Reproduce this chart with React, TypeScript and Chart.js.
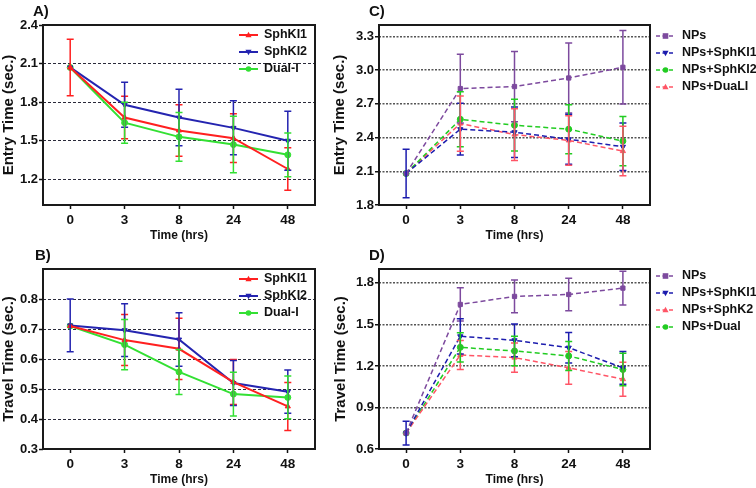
import React, { useEffect, useRef } from "react";
import { Chart, registerables } from "chart.js";
Chart.register(...registerables);

// ---------- data ----------
const timePoints = ["0", "3", "8", "24", "48"];

// A) Entry time
const entrySphKI1 = [2.07, 1.68, 1.58, 1.52, 1.28];
const entrySphKI1Err = [0.22, 0.165, 0.2, 0.19, 0.165];
const entrySphKI2 = [2.07, 1.78, 1.68, 1.6, 1.5];
const entrySphKI2Err = [0, 0.175, 0.22, 0.21, 0.23];
const entryDual = [2.07, 1.64, 1.53, 1.47, 1.39];
const entryDualErr = [0, 0.16, 0.19, 0.22, 0.17];
const entryTicks = [1.2, 1.5, 1.8, 2.1, 2.4];

// B) Travel time
const travelSphKI1 = [0.71, 0.663, 0.634, 0.523, 0.442];
const travelSphKI1Err = [0, 0.085, 0.102, 0.075, 0.08];
const travelSphKI2 = [0.712, 0.696, 0.665, 0.52, 0.491];
const travelSphKI2Err = [0.088, 0.088, 0.089, 0.075, 0.072];
const travelDual = [0.71, 0.648, 0.557, 0.483, 0.472];
const travelDualErr = [0, 0.084, 0.075, 0.073, 0.071];
const travelTicks = [0.3, 0.4, 0.5, 0.6, 0.7, 0.8];

// C) NP entry time
const npEntry = [2.08, 2.835, 2.853, 2.929, 3.024];
const npEntryErr = [0, 0.306, 0.312, 0.312, 0.327];
const npSphKI1Entry = [2.08, 2.474, 2.447, 2.385, 2.318];
const npSphKI1EntryErr = [0.216, 0.23, 0.224, 0.222, 0.212];
const npSphKI2Entry = [2.08, 2.562, 2.509, 2.474, 2.368];
const npSphKI2EntryErr = [0, 0.245, 0.23, 0.218, 0.218];
const npDualEntry = [2.08, 2.524, 2.426, 2.374, 2.279];
const npDualEntryErr = [0, 0.246, 0.23, 0.22, 0.22];
const npEntryTicks = [1.8, 2.1, 2.4, 2.7, 3.0, 3.3];

// D) NP travel time
const npTravel = [0.715, 1.644, 1.702, 1.716, 1.762];
const npTravelErr = [0, 0.12, 0.118, 0.118, 0.122];
const npSphKI1Travel = [0.715, 1.414, 1.385, 1.332, 1.186];
const npSphKI1TravelErr = [0.086, 0.127, 0.118, 0.11, 0.119];
const npSphK2Travel = [0.715, 1.279, 1.26, 1.186, 1.104];
const npSphK2TravelErr = [0, 0.104, 0.105, 0.118, 0.123];
const npDualTravel = [0.715, 1.334, 1.308, 1.272, 1.174];
const npDualTravelErr = [0, 0.105, 0.106, 0.105, 0.118];
const npTravelTicks = [0.6, 0.9, 1.2, 1.5, 1.8];

// ---------- styles ----------
const FONT = "'Liberation Sans', Arial, Helvetica, sans-serif";
const INK = "#111111";
const RED = "#ff2020";
const BLUE = "#2424b0";
const GREEN = "#33e033";
const PURPLE = "#7d4a9e";
const NBLUE = "#1c1cae";
const NGREEN = "#22cc22";
const PINK = "#ff5566";
const DASH = [5, 3];

type DS = {
  label: string;
  data: number[];
  err: number[];
  color: string;
  point: string;
  rot: number;
  dash: number[];
};

type Panel = {
  key: string;
  left: number;
  top: number;
  width: number;
  height: number;
  area: { l: number; t: number; r: number; b: number };
  yMin: number;
  yMax: number;
  ticks: number[];
  yTitle: string;
  yTitlePad: number;
  lineWidth: number;
  gridColor: string;
  gridWidth: number;
  gridDash: number[];
  legend: { x0: number; x1: number; tx: number; y0: number; gap: number };
  datasets: DS[];
};

const panels: Panel[] = [
  {
    key: "A",
    left: 0, top: 0, width: 378, height: 244,
    area: { l: 43, t: 25, r: 315, b: 205 },
    yMin: 1.0, yMax: 2.4, ticks: entryTicks,
    yTitle: "Entry Time (sec.)", yTitlePad: 0,
    lineWidth: 2, gridColor: "#2a2a3a", gridWidth: 1, gridDash: [3, 2],
    legend: { x0: 239, x1: 258, tx: 264, y0: 35, gap: 17 },
    datasets: [
      { label: "SphKI1", data: entrySphKI1, err: entrySphKI1Err, color: RED, point: "triangle", rot: 0, dash: [] },
      { label: "SphKI2", data: entrySphKI2, err: entrySphKI2Err, color: BLUE, point: "triangle", rot: 180, dash: [] },
      { label: "Dual-I", data: entryDual, err: entryDualErr, color: GREEN, point: "circle", rot: 0, dash: [] },
    ],
  },
  {
    key: "B",
    left: 0, top: 244, width: 378, height: 244,
    area: { l: 43, t: 25, r: 315, b: 205 },
    yMin: 0.3, yMax: 0.9, ticks: travelTicks,
    yTitle: "Travel Time (sec.)", yTitlePad: 0,
    lineWidth: 2, gridColor: "#2a2a3a", gridWidth: 1, gridDash: [3, 2],
    legend: { x0: 239, x1: 258, tx: 264, y0: 35, gap: 17 },
    datasets: [
      { label: "SphKI1", data: travelSphKI1, err: travelSphKI1Err, color: RED, point: "triangle", rot: 0, dash: [] },
      { label: "SphKI2", data: travelSphKI2, err: travelSphKI2Err, color: BLUE, point: "triangle", rot: 180, dash: [] },
      { label: "Dual-I", data: travelDual, err: travelDualErr, color: GREEN, point: "circle", rot: 0, dash: [] },
    ],
  },
  {
    key: "C",
    left: 330, top: 0, width: 426, height: 244,
    area: { l: 49, t: 25, r: 320, b: 205 },
    yMin: 1.8, yMax: 3.4, ticks: npEntryTicks,
    yTitle: "Entry Time (sec.)", yTitlePad: 1,
    lineWidth: 1.5, gridColor: "#555555", gridWidth: 1.5, gridDash: [2, 1.5],
    legend: { x0: 326, x1: 345, tx: 352, y0: 36, gap: 17 },
    datasets: [
      { label: "NPs", data: npEntry, err: npEntryErr, color: PURPLE, point: "rect", rot: 0, dash: DASH },
      { label: "NPs+SphKI1", data: npSphKI1Entry, err: npSphKI1EntryErr, color: NBLUE, point: "triangle", rot: 180, dash: DASH },
      { label: "NPs+SphKI2", data: npSphKI2Entry, err: npSphKI2EntryErr, color: NGREEN, point: "circle", rot: 0, dash: DASH },
      { label: "NPs+DuaLI", data: npDualEntry, err: npDualEntryErr, color: PINK, point: "triangle", rot: 0, dash: DASH },
    ],
  },
  {
    key: "D",
    left: 330, top: 244, width: 426, height: 244,
    area: { l: 49, t: 25, r: 320, b: 205 },
    yMin: 0.6, yMax: 1.9, ticks: npTravelTicks,
    yTitle: "Travel Time (sec.)", yTitlePad: 2,
    lineWidth: 1.5, gridColor: "#555555", gridWidth: 1.5, gridDash: [2, 1.5],
    legend: { x0: 326, x1: 345, tx: 352, y0: 32, gap: 17 },
    datasets: [
      { label: "NPs", data: npTravel, err: npTravelErr, color: PURPLE, point: "rect", rot: 0, dash: DASH },
      { label: "NPs+SphKI1", data: npSphKI1Travel, err: npSphKI1TravelErr, color: NBLUE, point: "triangle", rot: 180, dash: DASH },
      { label: "NPs+SphK2", data: npSphK2Travel, err: npSphK2TravelErr, color: PINK, point: "triangle", rot: 0, dash: DASH },
      { label: "NPs+Dual", data: npDualTravel, err: npDualTravelErr, color: NGREEN, point: "circle", rot: 0, dash: DASH },
    ],
  },
];

const panelLabels = [
  { text: "A)", left: 33, top: 3 },
  { text: "B)", left: 35, top: 247 },
  { text: "C)", left: 369, top: 3 },
  { text: "D)", left: 369, top: 247 },
];

// ---------- plugins ----------
function drawMarker(ctx: CanvasRenderingContext2D, style: string, rot: number, x: number, y: number, r: number) {
  ctx.beginPath();
  if (style === "circle") {
    ctx.arc(x, y, r, 0, Math.PI * 2);
  } else if (style === "rect") {
    ctx.rect(x - r, y - r, 2 * r, 2 * r);
  } else {
    const s = rot === 180 ? -1 : 1;
    ctx.moveTo(x, y - s * r * 1.2);
    ctx.lineTo(x - r * 1.1, y + s * r * 0.8);
    ctx.lineTo(x + r * 1.1, y + s * r * 0.8);
    ctx.closePath();
  }
  ctx.fill();
}

const errorBarPlugin = {
  id: "errorBars",
  afterDatasetsDraw(chart: any) {
    const ctx = chart.ctx as CanvasRenderingContext2D;
    const ys = chart.scales.y;
    chart.data.datasets.forEach((ds: any, i: number) => {
      const meta = chart.getDatasetMeta(i);
      ctx.save();
      ctx.strokeStyle = ds.borderColor;
      ctx.lineWidth = 1.5;
      ctx.setLineDash([]);
      meta.data.forEach((pt: any, j: number) => {
        const e = ds.errors[j];
        if (!e) return;
        const v = ds.data[j];
        const yt = ys.getPixelForValue(v + e);
        const yb = ys.getPixelForValue(v - e);
        const w = 3.5;
        ctx.beginPath();
        ctx.moveTo(pt.x, yt);
        ctx.lineTo(pt.x, yb);
        ctx.moveTo(pt.x - w, yt);
        ctx.lineTo(pt.x + w, yt);
        ctx.moveTo(pt.x - w, yb);
        ctx.lineTo(pt.x + w, yb);
        ctx.stroke();
      });
      ctx.restore();
    });
  },
};

const framePlugin = {
  id: "frame",
  afterDraw(chart: any) {
    const { ctx, chartArea } = chart;
    ctx.save();
    ctx.strokeStyle = "#1a1a1a";
    ctx.lineWidth = 2;
    ctx.setLineDash([]);
    ctx.strokeRect(chartArea.left, chartArea.top, chartArea.right - chartArea.left, chartArea.bottom - chartArea.top);
    ctx.restore();
  },
};

function makeLegendPlugin(p: Panel) {
  return {
    id: "customLegend",
    afterDraw(chart: any) {
      const ctx = chart.ctx as CanvasRenderingContext2D;
      const L = p.legend;
      p.datasets.forEach((d, i) => {
        const y = L.y0 + i * L.gap;
        ctx.save();
        ctx.strokeStyle = d.color;
        ctx.fillStyle = d.color;
        ctx.lineWidth = p.lineWidth;
        ctx.setLineDash(d.dash.length ? [4, 2.5] : []);
        ctx.beginPath();
        ctx.moveTo(L.x0, y);
        ctx.lineTo(L.x1, y);
        ctx.stroke();
        ctx.setLineDash([]);
        drawMarker(ctx, d.point, d.rot, (L.x0 + L.x1) / 2, y, 2.8);
        ctx.fillStyle = INK;
        ctx.font = `bold 12.5px ${FONT}`;
        ctx.textBaseline = "middle";
        ctx.textAlign = "left";
        ctx.fillText(d.label, L.tx, y);
        ctx.restore();
      });
    },
  };
}

// ---------- components ----------
function PanelChart({ p }: { p: Panel }) {
  const ref = useRef<HTMLCanvasElement | null>(null);
  useEffect(() => {
    if (!ref.current) return;
    const chart = new Chart(ref.current, {
      type: "line",
      data: {
        labels: timePoints,
        datasets: p.datasets.map((d) => ({
          label: d.label,
          data: d.data,
          errors: d.err,
          borderColor: d.color,
          backgroundColor: d.color,
          borderWidth: p.lineWidth,
          borderDash: d.dash,
          pointStyle: d.point,
          pointRotation: d.rot,
          pointRadius: 3,
          pointBorderWidth: 1,
          pointBackgroundColor: d.color,
          pointBorderColor: d.color,
          tension: 0,
          fill: false,
        })) as any,
      },
      options: {
        animation: false,
        responsive: false,
        maintainAspectRatio: false,
        layout: { padding: { left: 0, top: p.area.t, right: p.width - p.area.r, bottom: 0 } },
        plugins: {
          legend: { display: false },
          tooltip: { enabled: false },
          title: { display: false },
        },
        scales: {
          x: {
            type: "category",
            offset: true,
            grid: {
              offset: false,
              drawOnChartArea: false,
              drawTicks: true,
              tickLength: 4,
              tickColor: INK,
              tickWidth: 1.5,
            },
            border: { display: false },
            ticks: {
              color: INK,
              font: { family: FONT, size: 13.5, weight: "bold" },
              padding: 3,
              maxRotation: 0,
              autoSkip: false,
            },
            title: {
              display: true,
              text: "Time (hrs)",
              color: INK,
              font: { family: FONT, size: 12, weight: "bold" },
              padding: { top: 0, bottom: 1 },
            },
            afterFit: (s: any) => {
              s.height = p.height - p.area.b;
            },
          },
          y: {
            type: "linear",
            min: p.yMin,
            max: p.yMax,
            afterBuildTicks: (s: any) => {
              s.ticks = p.ticks.map((v) => ({ value: v }));
            },
            grid: {
              color: (c: any) =>
                c.tick && (Math.abs(c.tick.value - p.yMin) < 1e-6 || Math.abs(c.tick.value - p.yMax) < 1e-6)
                  ? "rgba(0,0,0,0)"
                  : p.gridColor,
              lineWidth: p.gridWidth,
              drawTicks: true,
              tickLength: 4,
              tickColor: INK,
              tickWidth: 1.5,
              tickBorderDash: [],
            },
            border: { display: false, dash: p.gridDash },
            ticks: {
              color: INK,
              font: { family: FONT, size: 13, weight: "bold" },
              padding: 1,
              autoSkip: false,
              callback: (v: any) => Number(v).toFixed(1),
            },
            title: {
              display: true,
              text: p.yTitle,
              color: INK,
              font: { family: FONT, size: 15, weight: "bold" },
              padding: { top: p.yTitlePad, bottom: 0 },
            },
            afterFit: (s: any) => {
              s.width = p.area.l;
            },
          },
        },
      } as any,
      plugins: [errorBarPlugin, framePlugin, makeLegendPlugin(p)],
    });
    return () => chart.destroy();
  }, [p]);
  return (
    <canvas
      ref={ref}
      width={p.width}
      height={p.height}
      style={{ position: "absolute", left: p.left, top: p.top, width: p.width, height: p.height }}
    />
  );
}

export default function App() {
  return (
    <div
      style={{
        position: "fixed",
        left: 0,
        top: 0,
        width: 756,
        height: 488,
        background: "#ffffff",
        overflow: "hidden",
      }}
    >
      {panels.map((p) => (
        <PanelChart key={p.key} p={p} />
      ))}
      {panelLabels.map((l) => (
        <div
          key={l.text}
          style={{
            position: "absolute",
            left: l.left,
            top: l.top,
            fontFamily: FONT,
            fontWeight: "bold",
            fontSize: 15,
            lineHeight: "15px",
            color: INK,
          }}
        >
          {l.text}
        </div>
      ))}
    </div>
  );
}
